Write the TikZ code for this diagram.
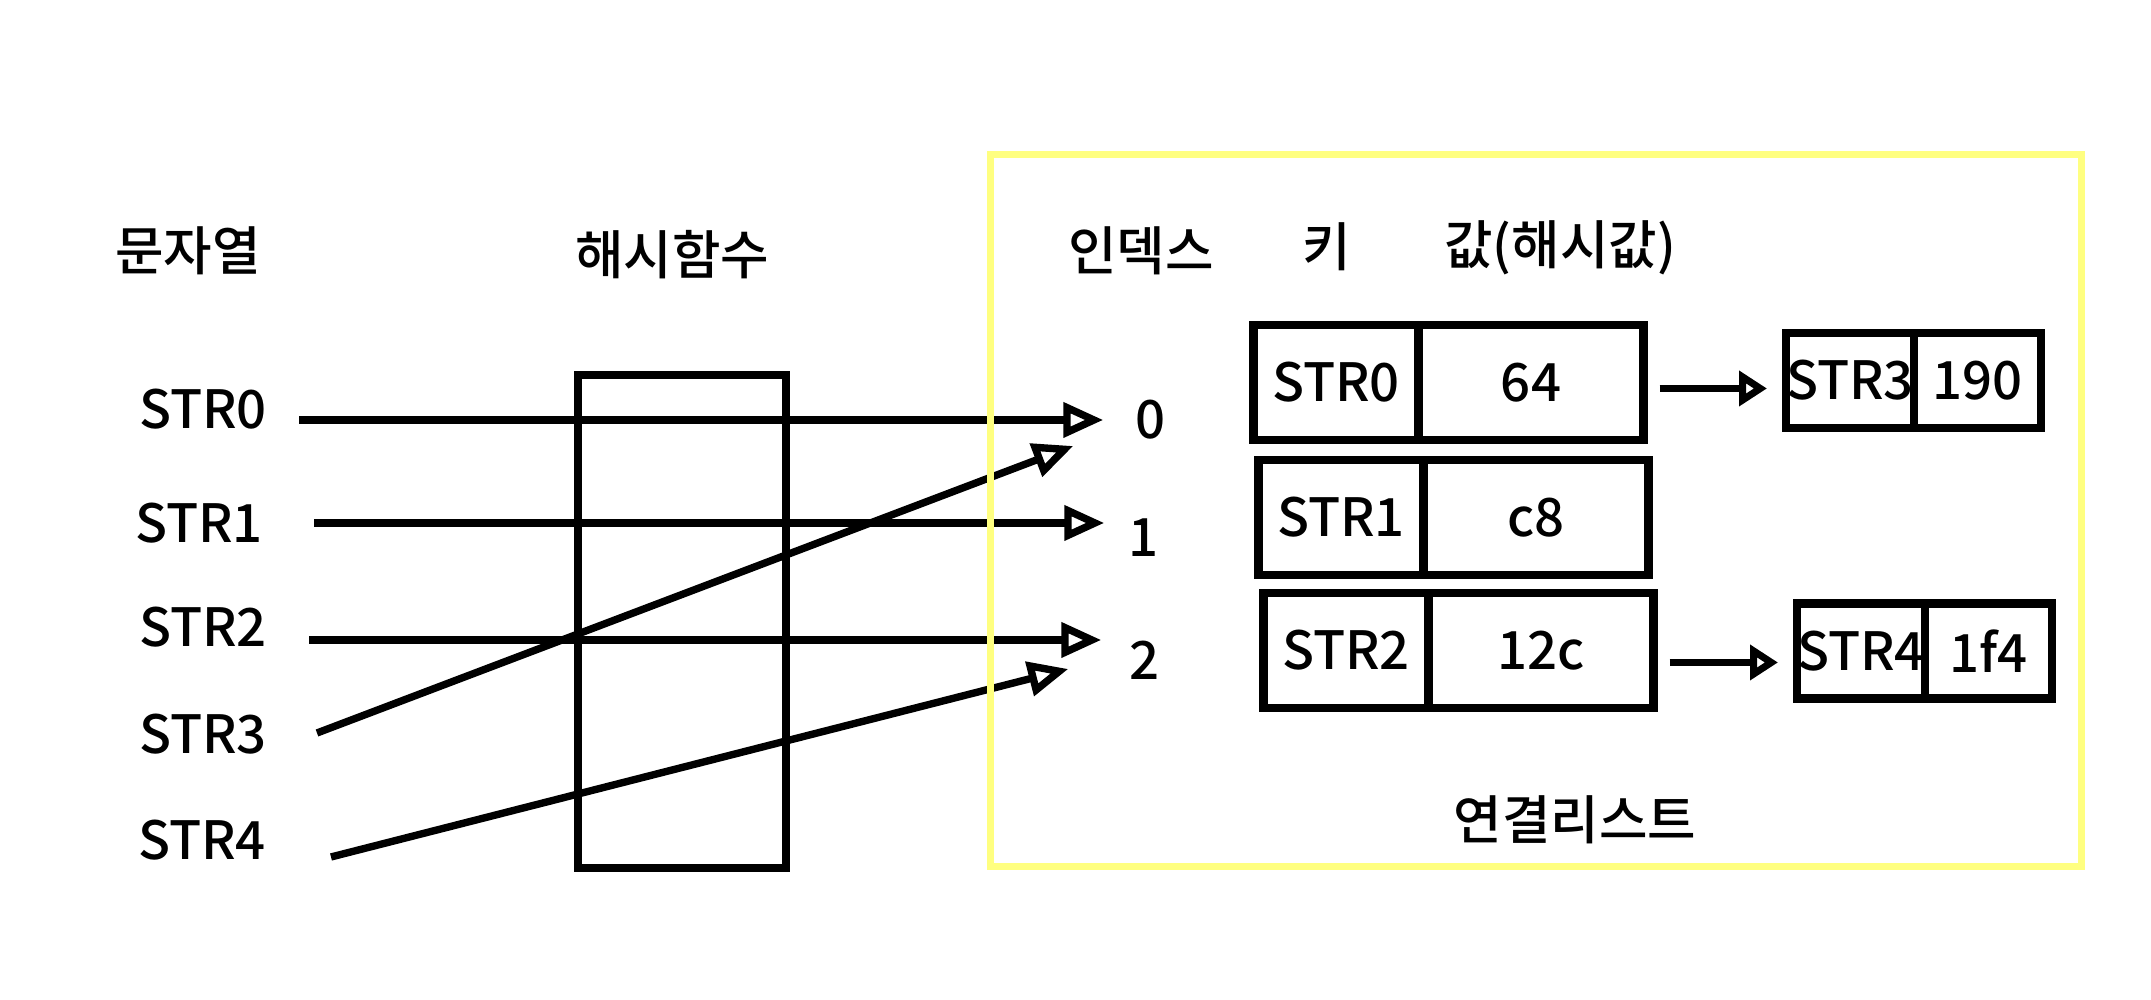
\documentclass[tikz,border=0pt]{standalone}
\usepackage{fontspec}
\setmainfont{Noto Sans CJK KR}[UprightFont=* Medium]
\usetikzlibrary{arrows.meta,positioning,calc}
\definecolor{listyellow}{HTML}{FFFF80}

\begin{document}
\begin{tikzpicture}[
  >={Triangle[open,length=4mm,width=3.4mm]},
  txt/.style={inner sep=0pt, font=\fontsize{15}{18}\selectfont},
  cell/.style={draw, line width=2.3pt, outer sep=0pt, inner sep=0pt,
               minimum height=11.5mm, font=\fontsize{15}{18}\selectfont},
  small/.style={cell, minimum height=9.5mm},
  link/.style={->, line width=2.1pt},
  chain/.style={-{Triangle[open,length=2.8mm,width=3.4mm]}, line width=2.1pt}
]
  \useasboundingbox (0,0) rectangle (21.51,10);
  %% column headings
  \node[txt] (hstr) at (1.88,7.49)  {문자열};
  \node[txt] (hfun) at (6.72,7.45)  {해시함수};
  \node[txt] (hidx) at (11.41,7.49) {인덱스};
  \node[txt] (hkey) at (13.27,7.53) {키};
  \node[txt] (hval) at (15.60,7.52) {값(해시값)};
  %% input strings
  \node[txt] (s0) at (2.03,5.91) {STR0};
  \node[txt] (s1) at (1.99,4.77) {STR1};
  \node[txt] (s2) at (2.03,3.73) {STR2};
  \node[txt] (s3) at (2.03,2.66) {STR3};
  \node[txt] (s4) at (2.02,1.60) {STR4};
  \coordinate (t0) at (2.99,5.80);
  \coordinate (t1) at (3.14,4.77);
  \coordinate (t2) at (3.09,3.60);
  \coordinate (t3) at (3.17,2.67);
  \coordinate (t4) at (3.31,1.43);
  %% hash function
  \node[draw, line width=2.1pt, minimum width=20.8mm, minimum height=49.3mm]
    (hashfn) at (6.82,3.785) {};
  %% indices
  \node[txt] (i0) at (11.51,5.80) {0};
  \node[txt] (i1) at (11.44,4.62) {1};
  \node[txt] (i2) at (11.45,3.40) {2};
  \draw[link, shorten >=3.2mm] (t0) -- (t0 -| i0.west);
  \draw[link, shorten >=2.4mm] (t1) -- (t1 -| i1.west);
  \draw[link, shorten >=2.8mm] (t2) -- (t2 -| i2.west);
  \draw[link] (t3) -- ([shift={(-6.2mm,-2.6mm)}]i0.west);
  \draw[link] (t4) -- ([shift={(-6.1mm,-0.9mm)}]i2.west);
  %% table entries
  \node[cell, minimum width=16.5mm] (k0) at (13.36,6.175) {STR0};
  \node[cell, minimum width=22.5mm, right=0pt of k0] (v0) {64};
  \node[cell, minimum width=16.5mm, below=2mm of k0, xshift=0.5mm] (k1) {STR1};
  \node[cell, minimum width=22.5mm, right=0pt of k1] (v1) {c8};
  \node[cell, minimum width=16.5mm, below=1.8mm of k1, xshift=0.5mm] (k2) {STR2};
  \node[cell, minimum width=22.5mm, right=0pt of k2] (v2) {12c};
  %% chained entries
  \node[small, minimum width=12.8mm] (c3k) at (18.50,6.195) {STR3};
  \node[small, minimum width=12.7mm, right=0pt of c3k] (c3v) {190};
  \node[small, minimum width=12.8mm] (c4k) at (18.61,3.49) {STR4};
  \node[small, minimum width=12.7mm, right=0pt of c4k] (c4v) {1f4};
  \draw[chain, shorten <=1.6mm, shorten >=1.9mm]
    ([yshift=-0.6mm]v0.east) -- ([yshift=-0.6mm]v0.east -| c3k.west);
  \draw[chain, shorten <=1.6mm, shorten >=1.9mm]
    ([yshift=-1.2mm]v2.east) -- ([yshift=-1.2mm]v2.east -| c4k.west);
  \node[txt] (lname) at (15.75,1.80) {연결리스트};
  %% frame round the table
  \draw[line width=2pt, listyellow] (9.90,1.33) rectangle (20.81,8.45);
\end{tikzpicture}
\end{document}
